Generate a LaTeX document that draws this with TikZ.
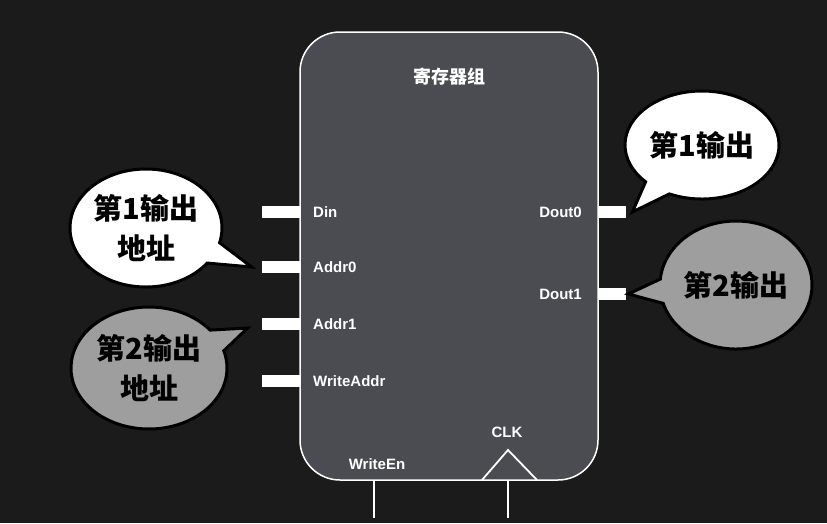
\documentclass[tikz,border=0pt]{standalone}
\usepackage{fontspec}
\setmainfont{Liberation Sans}
\newfontfamily\cjk{Noto Sans CJK SC}
\usetikzlibrary{shapes.callouts}
\definecolor{bgdark}{HTML}{1B1B1B}
\definecolor{boxgray}{HTML}{4A4C51}
\definecolor{bubblegray}{HTML}{9E9E9E}

\begin{document}
\begin{tikzpicture}[x=1pt, y=-1pt,
  stub/.style={fill=white, minimum height=12pt, inner sep=0pt},
  port/.style={text=white, font=\fontsize{15}{17}\selectfont\bfseries, inner sep=0pt},
  wire/.style={white, line width=1.5pt},
  bubble/.style={ellipse callout, draw=black, line width=3pt, text=black, align=center,
    callout pointer arc=22, inner sep=0pt, font=\fontsize{29}{40}\selectfont\cjk\bfseries}]
\useasboundingbox [fill=bgdark] (0,0) rectangle (827,523);

% register file box
\node [draw=white, line width=1.5pt, fill=boxgray, rounded corners=40pt,
  minimum width=298pt, minimum height=448pt] (regs) at (449,256) {};
\node [text=white, font=\fontsize{18}{20}\selectfont\cjk\bfseries] (title) at (449,77) {寄存器组};

% input ports
\foreach \name/\y/\txt in {din/212/Din, addra/267/Addr0, addrb/324/Addr1, waddr/381/WriteAddr}
{
  \node [stub, minimum width=38pt, anchor=east] (\name) at (300,\y) {};
  \node [port, anchor=west] (\name lbl) at (313,\y) {\txt};
}

% output ports
\foreach \name/\y/\txt in {douta/212/Dout0, doutb/294/Dout1}
{
  \node [stub, minimum width=28pt, anchor=west] (\name) at (598,\y) {};
  \node [port, anchor=east] (\name lbl) at (582,\y) {\txt};
}

% bottom ports
\node [port] (welbl) at (377,464) {WriteEn};
\node [port] (clklbl) at (507,432) {CLK};
\coordinate (weend) at (374,518);
\coordinate (clkend) at (508,518);
\draw [wire] (weend |- regs.south) -- (weend);
\draw [wire] (clkend |- regs.south) -- (clkend);
\draw [wire, line width=1.8pt] (482,480) -- (508,450) -- (537,480);

% callouts
\node [bubble, fill=white, minimum width=152pt, minimum height=118pt,
  callout absolute pointer={([xshift=-10pt]addra.west)}] (outaaddr) at (146,228) {第1输出\\地址};
\node [bubble, fill=bubblegray, minimum width=156pt, minimum height=122pt,
  callout absolute pointer={([xshift=-14pt,yshift=-4pt]addrb.west)}] (outbaddr) at (149,368) {第2输出\\地址};
\node [bubble, fill=white, minimum width=154pt, minimum height=108pt,
  callout absolute pointer={([xshift=6pt]douta.east)}] (outa) at (702,145) {第1输出};
\node [bubble, fill=bubblegray, minimum width=152pt, minimum height=128pt,
  callout absolute pointer={([xshift=2pt]doutb.east)}] (outb) at (736,285) {第2输出};
\end{tikzpicture}
\end{document}
